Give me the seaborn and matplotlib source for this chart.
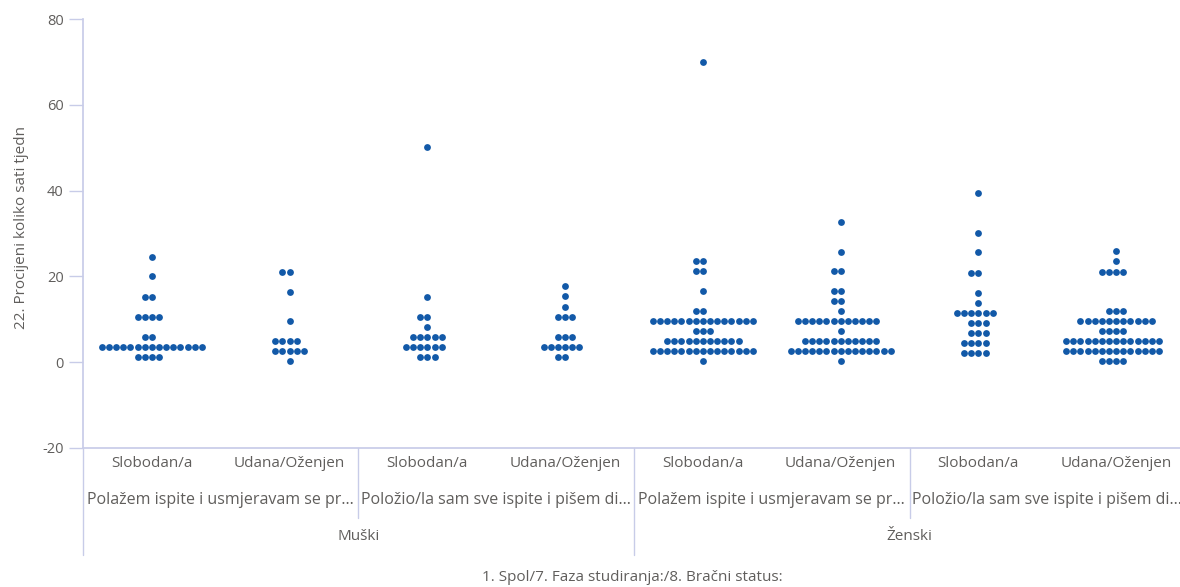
import numpy as np
import pandas as pd
import seaborn as sns
import matplotlib.pyplot as plt
from matplotlib.lines import Line2D
from matplotlib.transforms import blended_transform_factory

# Categorias (jerarquia del eje x)
spol = ["Muški", "Ženski"]
faza = ["Polažem ispite i usmjeravam se pr...", "Položio/la sam sve ispite i pišem di..."]
status = ["Slobodan/a", "Udana/Oženjen"]

# Valores: (valor, numero de puntos) por grupo
g1_vals = [24.5, 20, 15.2, 10.6, 5.9, 3.6, 1.2]
g1_counts = [1, 1, 2, 4, 2, 15, 4]
g2_vals = [21.0, 16.4, 9.6, 5.0, 2.6, 0.2]
g2_counts = [2, 1, 1, 4, 5, 1]
g3_vals = [50.2, 15.2, 10.6, 8.2, 5.9, 3.5, 1.2]
g3_counts = [1, 1, 2, 1, 5, 6, 3]
g4_vals = [17.7, 15.4, 12.9, 10.6, 5.9, 3.5, 1.2]
g4_counts = [1, 1, 1, 3, 3, 6, 2]
g5_vals = [70.0, 23.6, 21.3, 16.6, 12.0, 9.6, 7.3, 5.0, 2.6, 0.2]
g5_counts = [1, 2, 2, 1, 2, 15, 3, 11, 15, 1]
g6_vals = [32.7, 25.7, 21.2, 16.5, 14.2, 11.9, 9.6, 7.2, 4.9, 2.6, 0.2]
g6_counts = [1, 1, 2, 2, 2, 1, 12, 1, 11, 15, 1]
g7_vals = [39.5, 30.2, 25.6, 20.9, 16.2, 13.8, 11.5, 9.2, 6.8, 4.5, 2.2]
g7_counts = [1, 1, 1, 2, 1, 1, 6, 3, 3, 4, 4]
g8_vals = [25.9, 23.5, 21.1, 11.9, 9.6, 7.2, 4.9, 2.6, 0.2]
g8_counts = [1, 1, 4, 3, 11, 4, 14, 14, 4]

grupos_vals = [g1_vals, g2_vals, g3_vals, g4_vals, g5_vals, g6_vals, g7_vals, g8_vals]
grupos_counts = [g1_counts, g2_counts, g3_counts, g4_counts, g5_counts, g6_counts, g7_counts, g8_counts]

# Construir tabla larga
filas = []
orden = []
for i, (vals, cnts) in enumerate(zip(grupos_vals, grupos_counts)):
    s = spol[i // 4]
    f = faza[(i // 2) % 2]
    b = status[i % 2]
    clave = f"{s}|{f}|{b}"
    orden.append(clave)
    for v in np.repeat(vals, cnts):
        filas.append({"grupo": clave, "sati": v})
df = pd.DataFrame(filas)

sns.set_theme(style="white")
plt.rcParams["font.family"] = ["Open Sans", "DejaVu Sans"]
plt.rcParams["axes.unicode_minus"] = False

texto = "#605E5C"
linea = "#C8CCE8"
azul = "#1259A8"

fig = plt.figure(figsize=(11.8, 5.87), dpi=100)
ax = fig.add_axes([0.0703, 0.2368, 0.934, 0.7308])

sns.swarmplot(data=df, x="grupo", y="sati", order=orden, color=azul,
              size=4.9, linewidth=0, ax=ax)

ax.set_xlim(-0.5, 7.5)
ax.set_ylim(-20, 80)
ax.set_yticks([-20, 0, 20, 40, 60, 80])
ax.tick_params(axis="y", length=10, width=1, color=linea, labelcolor=texto,
               labelsize=10.5, pad=4, left=True)
ax.set_xticks([])
ax.set(xlabel=None)
ax.set_ylabel("22. Procijeni koliko sati tjedn", color=texto, fontsize=11)
ax.yaxis.set_label_coords(-0.049, 0.513)

sns.despine(ax=ax, top=True, right=True)
ax.spines["left"].set_color(linea)
ax.spines["bottom"].set_color(linea)
ax.grid(False)

# Etiquetas jerarquicas del eje x
tr = blended_transform_factory(ax.transData, fig.transFigure)
for i in range(8):
    ax.text(i, 0.2112, status[i % 2], transform=tr, ha="center", va="center",
            fontsize=11, color=texto)
for j in range(4):
    ax.text(2 * j + 0.5, 0.1482, faza[j % 2], transform=tr, ha="center", va="center",
            fontsize=11.5, color=texto)
for k in range(2):
    ax.text(4 * k + 1.5, 0.0852, spol[k], transform=tr, ha="center", va="center",
            fontsize=11, color=texto)

# Separadores
for xs, y0 in [(-0.5, 0.0545), (1.5, 0.1175), (3.5, 0.0545), (5.5, 0.1175)]:
    fig.add_artist(Line2D([xs, xs], [0.2368, y0], transform=tr, color=linea, lw=1))

fig.text(0.536, 0.017, "1. Spol/7. Faza studiranja:/8. Bračni status:", ha="center",
         va="center", fontsize=11, color=texto)

plt.savefig("out.png", dpi=100)
